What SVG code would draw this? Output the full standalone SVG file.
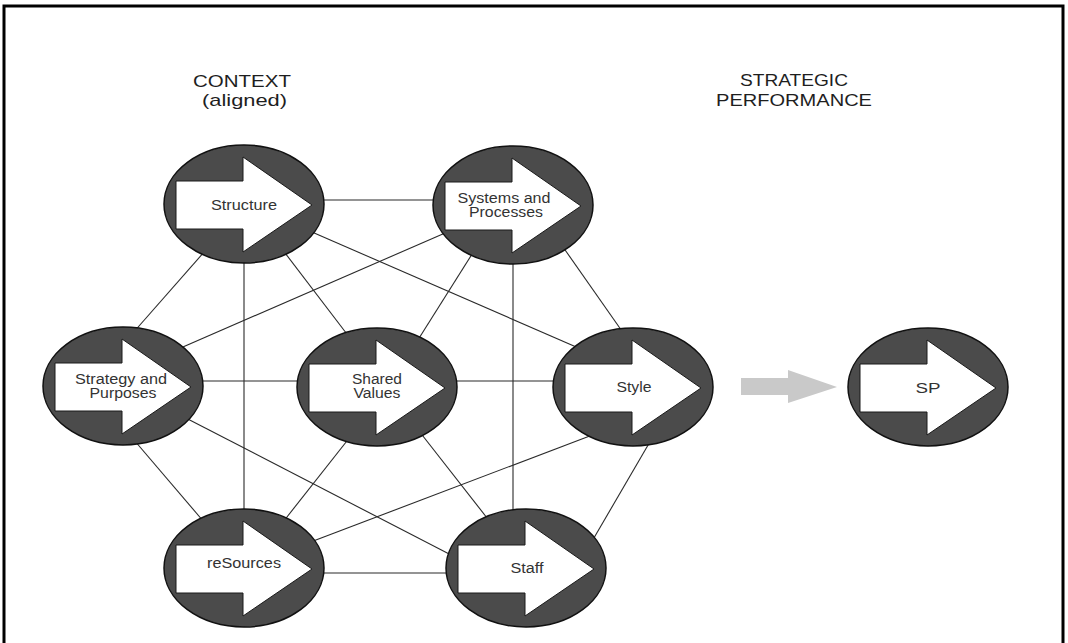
<svg xmlns="http://www.w3.org/2000/svg" width="1068" height="643" viewBox="0 0 1068 643">
  <style>
    .frame { fill: none; stroke: #000; stroke-width: 3; }
    .link { stroke: #2a2a2a; stroke-width: 1.1; fill: none; }
    .disc { fill: #4b4b4b; stroke: #111; stroke-width: 1.5; }
    .arrow { fill: #fff; stroke: #1a1a1a; stroke-width: 1; }
    .label { font-family: "Liberation Sans", Arial, sans-serif; font-size: 14px; fill: #333; text-anchor: middle; }
    .head { font-family: "Liberation Sans", Arial, sans-serif; font-size: 17px; fill: #1e1e1e; }
  </style>
  <defs>
    <!-- block arrow sitting inside each disc, centred on (0,0) -->
    <path id="blockArrow" class="arrow" d="M-68,-23 H-1 V-47 L68,1 L-1,48 V25 H-68 Z"/>
    <g id="disc">
      <ellipse class="disc" cx="0" cy="0" rx="80" ry="59"/>
      <use href="#blockArrow"/>
    </g>
  </defs>

  <rect width="1068" height="643" fill="#fff"/>
  <path class="frame" d="M4,643 V6 H1063 V643"/>

  <!-- headings -->
  <g id="heading-context">
    <text class="head" x="193" y="87" textLength="98" lengthAdjust="spacingAndGlyphs">CONTEXT</text>
    <text class="head" x="202" y="106" textLength="85" lengthAdjust="spacingAndGlyphs">(aligned)</text>
  </g>
  <g id="heading-performance">
    <text class="head" x="740" y="86" textLength="108" lengthAdjust="spacingAndGlyphs">STRATEGIC</text>
    <text class="head" x="716" y="106" textLength="156" lengthAdjust="spacingAndGlyphs">PERFORMANCE</text>
  </g>

  <!-- connectors between the seven elements -->
  <g id="connectors">
    <line class="link" x1="310" y1="200" x2="445" y2="200"/>
    <line class="link" x1="205" y1="251" x2="132" y2="334"/>
    <line class="link" x1="244" y1="255" x2="244" y2="515"/>
    <line class="link" x1="282" y1="249" x2="353" y2="342"/>
    <line class="link" x1="305" y1="229" x2="590" y2="353"/>
    <line class="link" x1="452" y1="230" x2="176" y2="350"/>
    <line class="link" x1="474" y1="251" x2="416" y2="343"/>
    <line class="link" x1="513" y1="255" x2="513" y2="515"/>
    <line class="link" x1="563" y1="247" x2="624" y2="334"/>
    <line class="link" x1="195" y1="381" x2="305" y2="381"/>
    <line class="link" x1="450" y1="381" x2="560" y2="381"/>
    <line class="link" x1="134" y1="440" x2="204" y2="522"/>
    <line class="link" x1="180" y1="415" x2="455" y2="557"/>
    <line class="link" x1="354" y1="432" x2="283" y2="522"/>
    <line class="link" x1="419" y1="431" x2="491" y2="523"/>
    <line class="link" x1="308" y1="543" x2="595" y2="434"/>
    <line class="link" x1="651" y1="440" x2="591" y2="543"/>
    <line class="link" x1="315" y1="573" x2="455" y2="573"/>
  </g>

  <!-- elements -->
  <g id="node-structure" transform="translate(244,204)">
    <use href="#disc"/>
    <text class="label" x="0" y="6" textLength="66" lengthAdjust="spacingAndGlyphs">Structure</text>
  </g>
  <g id="node-systems" transform="translate(513,205)">
    <use href="#disc"/>
    <text class="label" x="-9" y="-2" textLength="93" lengthAdjust="spacingAndGlyphs">Systems and</text>
    <text class="label" x="-7" y="12" textLength="74" lengthAdjust="spacingAndGlyphs">Processes</text>
  </g>
  <g id="node-strategy" transform="translate(123,386)">
    <use href="#disc"/>
    <text class="label" x="-2" y="-2" textLength="92" lengthAdjust="spacingAndGlyphs">Strategy and</text>
    <text class="label" x="0" y="12" textLength="67" lengthAdjust="spacingAndGlyphs">Purposes</text>
  </g>
  <g id="node-shared-values" transform="translate(377,387)">
    <use href="#disc"/>
    <text class="label" x="0" y="-3" textLength="50" lengthAdjust="spacingAndGlyphs">Shared</text>
    <text class="label" x="0" y="11" textLength="47" lengthAdjust="spacingAndGlyphs">Values</text>
  </g>
  <g id="node-style" transform="translate(633,387)">
    <use href="#disc"/>
    <text class="label" x="1" y="5" textLength="35" lengthAdjust="spacingAndGlyphs">Style</text>
  </g>
  <g id="node-resources" transform="translate(244,568)">
    <use href="#disc"/>
    <text class="label" x="0" y="0" textLength="74" lengthAdjust="spacingAndGlyphs">reSources</text>
  </g>
  <g id="node-staff" transform="translate(526,568)">
    <use href="#disc"/>
    <text class="label" x="1" y="5" textLength="33" lengthAdjust="spacingAndGlyphs">Staff</text>
  </g>

  <!-- outcome -->
  <g id="flow-arrow">
    <path d="M741,378 H788 V370 L837,387 L788,403 V395 H741 Z" fill="#c9c9c9"/>
  </g>
  <g id="node-sp" transform="translate(928,387)">
    <use href="#disc"/>
    <text class="label" x="0" y="6" textLength="25" lengthAdjust="spacingAndGlyphs">SP</text>
  </g>
</svg>
